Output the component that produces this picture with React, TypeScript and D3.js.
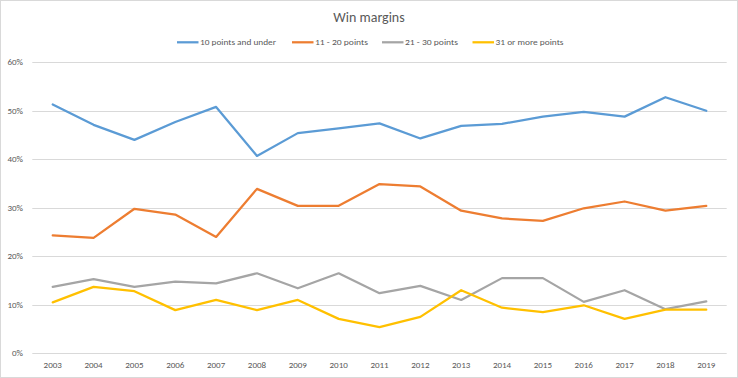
import React from "react";
import * as d3 from "d3";

const years = ["2003","2004","2005","2006","2007","2008","2009","2010","2011","2012","2013","2014","2015","2016","2017","2018","2019"];
const under10 = [51.3,47.1,44.0,47.7,50.8,40.7,45.4,46.4,47.4,44.3,46.9,47.3,48.8,49.8,48.8,52.8,50.0];
const p11to20 = [24.3,23.8,29.8,28.6,24.0,33.9,30.4,30.4,34.9,34.4,29.4,27.8,27.3,29.9,31.3,29.4,30.4];
const p21to30 = [13.7,15.3,13.7,14.8,14.4,16.5,13.4,16.5,12.4,13.9,11.0,15.5,15.5,10.6,13.0,9.1,10.7];
const p31plus = [10.5,13.7,12.8,8.9,11.0,8.9,11.0,7.1,5.4,7.5,13.0,9.4,8.5,9.9,7.1,9.0,9.0];
const seriesNames = ["10 points and under","11 - 20 points","21 - 30 points","31 or more points"];
const yTicks = [0,10,20,30,40,50,60];
const colors = ["#5B9BD5","#ED7D31","#A5A5A5","#FFC000"];

const W = 738, H = 378;
const left = 32.3, right = 726.7, top = 62.3, bottom = 353.3;
const font = "Carlito, Lato, 'Open Sans', sans-serif";

export default function App() {
  const x = d3.scaleBand().domain(years).range([left, right]);
  const y = d3.scaleLinear().domain([0, 60]).range([bottom, top]);
  const data = [under10, p11to20, p21to30, p31plus];
  const line = d3.line<number>()
    .x((_, i) => (x(years[i]) as number) + x.bandwidth() / 2)
    .y((d) => y(d));
  const legendX = [177, 292, 382, 472.5];
  const legendW = [76, 53, 53, 68];
  return (
    <svg width={W} height={H} style={{ position: "absolute", left: 0, top: 0, background: "#fff" }} fontFamily={font}>
      <rect x={0.5} y={0.5} width={W - 1} height={H - 1} fill="#fff" stroke="#d9d9d9" />
      <text x={369} y={22} textAnchor="middle" fontSize={14} fill="#595959">Win margins</text>
      {seriesNames.map((n, i) => (
        <g key={n}>
          <line x1={legendX[i]} x2={legendX[i] + 21.5} y1={42.3} y2={42.3} stroke={colors[i]} strokeWidth={2.25} />
          <text x={legendX[i] + 23} y={45.3} fontSize={9} fill="#595959" textLength={legendW[i]} lengthAdjust="spacingAndGlyphs">{n}</text>
        </g>
      ))}
      {yTicks.map((t) => (
        <g key={t}>
          <line x1={left} x2={right} y1={Math.round(y(t)) + 0.5} y2={Math.round(y(t)) + 0.5} stroke="#d9d9d9" strokeWidth={1} />
          <text x={23} y={y(t) + 3} textAnchor="end" fontSize={9} fill="#595959">{t + "%"}</text>
        </g>
      ))}
      {years.map((yr) => (
        <text key={yr} x={(x(yr) as number) + x.bandwidth() / 2} y={367.5} textAnchor="middle" fontSize={9} fill="#595959">{yr}</text>
      ))}
      {data.map((s, i) => (
        <path key={i} d={line(s) as string} fill="none" stroke={colors[i]} strokeWidth={2.25} strokeLinejoin="round" strokeLinecap="round" />
      ))}
    </svg>
  );
}
